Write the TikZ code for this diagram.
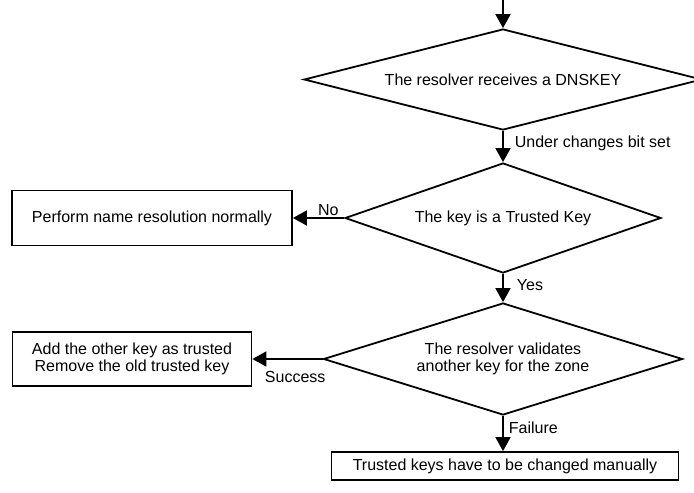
\documentclass[tikz,border=0pt]{standalone}
\usepackage{fontspec}
\setmainfont{Liberation Sans}
\usetikzlibrary{shapes.geometric,arrows.meta}

\begin{document}
\begin{tikzpicture}[x=1pt,y=-1pt,line width=1.8pt,font=\fontsize{16}{17}\selectfont,
  decision/.style={diamond,draw,inner sep=0pt,aspect=4,align=center},
  block/.style={rectangle,draw,inner sep=0pt,align=center},
  flow/.style={-{Triangle[length=14pt,width=15pt]}},
  lbl/.style={inner sep=1pt}]
\useasboundingbox (0,0) rectangle (694,493);
\coordinate (in) at (503,-2);
\node[decision,minimum width=398pt,minimum height=101pt] (recv) at (503,79.5) {The resolver receives a DNSKEY};
\node[decision,minimum width=316pt,minimum height=110pt] (trusted) at (503,218) {The key is a Trusted Key};
\node[decision,minimum width=359pt,minimum height=112pt] (validate) at (503,359) {The resolver validates\\another key for the zone};
\node[block,minimum width=280pt,minimum height=55pt] (normal) at (152,218) {Perform name resolution normally};
\node[block,minimum width=239pt,minimum height=54pt] (addkey) at (132,359) {Add the other key as trusted\\Remove the old trusted key};
\node[block,minimum width=347pt,minimum height=28pt] (manual) at (505,466) {Trusted keys have to be changed manually};
 \draw[flow] (in) -- (recv.north);
 \draw[flow] (recv.south) -- node[lbl,right,pos=0.39,xshift=10pt] {Under changes bit set} (trusted.north);
 \draw[flow] (trusted.west) -- node[lbl,above,pos=0.31] {No} (normal.east);
 \draw[flow] (trusted.south) -- node[lbl,right,pos=0.38,xshift=12pt] {Yes} (validate.north);
 \draw[flow] (validate.west) -- node[lbl,below,pos=0.39,yshift=-10pt] {Success} (addkey.east);
 \draw[flow] (validate.south) -- node[lbl,right,pos=0.35,xshift=4pt] {Failure} (validate.south |- manual.north);
\end{tikzpicture}
\end{document}
